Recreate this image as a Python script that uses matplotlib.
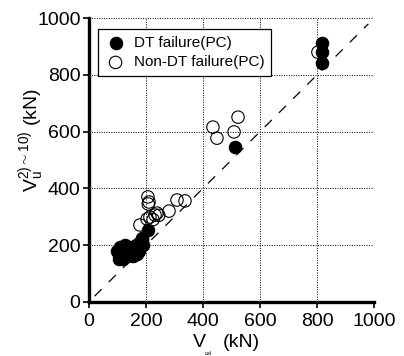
import matplotlib
matplotlib.use("Agg")
import matplotlib.pyplot as plt

plt.rcParams['font.family'] = ['Liberation Sans', 'DejaVu Sans']
plt.rcParams['mathtext.fontset'] = 'custom'
plt.rcParams['mathtext.rm'] = 'Liberation Sans'
plt.rcParams['mathtext.it'] = 'Liberation Sans'

# DT failure (PC) - filled
dt_x = [817, 817, 817, 512, 207, 186, 180, 175, 170, 165, 160, 150, 145, 140,
        130, 125, 120, 115, 110, 105, 110, 120, 135, 155, 170, 190, 185, 160,
        140, 115, 100, 105, 125, 150, 175]
dt_y = [912, 880, 842, 546, 253, 218, 210, 195, 185, 200, 175, 190, 165, 180,
        195, 170, 185, 160, 175, 165, 195, 150, 160, 160, 170, 200, 225, 180,
        195, 190, 180, 150, 200, 175, 180]

# Non-DT failure (PC) - open
ndt_x = [803, 523, 435, 449, 509, 207, 211, 208, 309, 337, 281, 232, 214, 239,
         204, 179, 225, 245]
ndt_y = [880, 651, 616, 577, 599, 370, 352, 345, 359, 356, 320, 306, 299, 313,
         292, 271, 290, 305]

ticks = [0, 200, 400, 600, 800, 1000]

fig = plt.figure(figsize=(4.04, 3.56), dpi=100)
ax = fig.add_axes([0.220, 0.152, 0.706, 0.797])

ax.plot([20, 980], [20, 980], color="black", lw=0.9, ls=(0, (8, 8)), zorder=1)
ax.scatter(dt_x, dt_y, s=80, c="black", edgecolors="black", linewidths=0.8,
           label="DT failure(PC)", zorder=3)
ax.scatter(ndt_x, ndt_y, s=80, facecolors="none", edgecolors="black",
           linewidths=0.8, label="Non-DT failure(PC)", zorder=3)

ax.set_xlim(0, 1000)
ax.set_ylim(0, 1000)
ax.set_xticks(ticks)
ax.set_yticks(ticks)
ax.tick_params(labelsize=14, direction="out", length=4, width=1.2)
ax.tick_params(axis="x", pad=4)
ax.tick_params(axis="y", pad=2)
ax.grid(True, color="black", ls=(0, (1, 1.5)), lw=0.7)
ax.set_axisbelow(True)

for side in ["top", "right"]:
    ax.spines[side].set_visible(False)
for side in ["left", "bottom"]:
    ax.spines[side].set_linewidth(2.4)

# x label: V with a tiny subscript, then (kN)
fig.text(0.478, 0.025, "V", fontsize=14, ha="left", va="baseline")
fig.text(0.507, 0.006, "cal", fontsize=4, ha="left", va="center")
fig.text(0.552, 0.025, "(kN)", fontsize=14, ha="left", va="baseline")

# y label
fig.text(0.080, 0.607, r"V$_{\mathrm{u}}^{2)\sim10)}$ (kN)", fontsize=14,
         rotation=90, ha="center", va="center")

leg = ax.legend(loc="upper left", bbox_to_anchor=(0.032, 0.961), fontsize=11,
                frameon=True, fancybox=False, edgecolor="black",
                handletextpad=0.5, borderpad=0.45, labelspacing=0.35,
                handlelength=1.4, borderaxespad=0)
leg.get_frame().set_linewidth(0.9)
leg.get_frame().set_alpha(1)

fig.savefig("out.png", dpi=100)
